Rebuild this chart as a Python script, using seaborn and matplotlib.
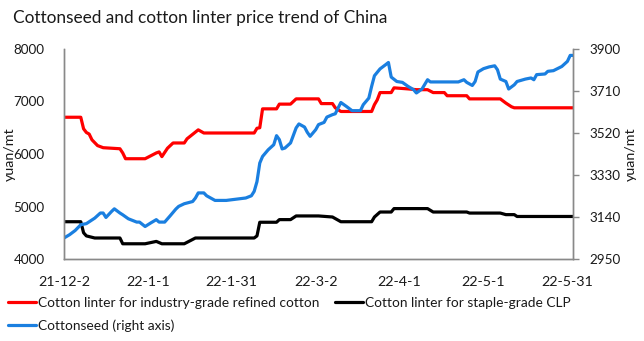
import matplotlib
matplotlib.use("Agg")
import matplotlib.pyplot as plt
import seaborn as sns
import pandas as pd
from matplotlib.lines import Line2D

# ---- data ----
refined_dates = [
    "2021-12-02", "2021-12-08", "2021-12-09", "2021-12-10", "2021-12-11", "2021-12-12",
    "2021-12-14", "2021-12-16", "2021-12-22", "2021-12-23", "2021-12-24", "2021-12-31",
    "2022-01-04", "2022-01-05", "2022-01-06", "2022-01-08", "2022-01-10", "2022-01-14",
    "2022-01-15", "2022-01-19", "2022-01-21", "2022-02-08", "2022-02-09", "2022-02-10",
    "2022-02-11", "2022-02-16", "2022-02-17", "2022-02-21", "2022-02-23", "2022-03-03",
    "2022-03-04", "2022-03-08", "2022-03-09", "2022-03-11", "2022-03-22", "2022-03-23",
    "2022-03-24", "2022-03-25", "2022-03-29", "2022-03-30", "2022-04-04", "2022-04-07",
    "2022-04-11", "2022-04-13", "2022-04-17", "2022-04-18", "2022-04-25", "2022-04-26",
    "2022-05-07", "2022-05-09", "2022-05-11", "2022-05-12", "2022-06-02",
]
refined_price = [
    6700, 6700, 6480, 6410, 6380, 6270,
    6160, 6120, 6100, 6020, 5910, 5910,
    6020, 6040, 5950, 6110, 6210, 6210,
    6290, 6460, 6400, 6400, 6490, 6500,
    6860, 6860, 6950, 6950, 7050, 7050,
    6960, 6960, 6880, 6810, 6810, 6940,
    7030, 7170, 7170, 7260, 7240, 7225,
    7225, 7170, 7170, 7110, 7110, 7050,
    7050, 6970, 6900, 6880, 6880,
]

staple_dates = [
    "2021-12-02", "2021-12-08", "2021-12-09", "2021-12-10", "2021-12-13", "2021-12-22",
    "2021-12-23", "2021-12-31", "2022-01-04", "2022-01-06", "2022-01-14", "2022-01-18",
    "2022-02-08", "2022-02-09", "2022-02-10", "2022-02-16", "2022-02-17", "2022-02-21",
    "2022-02-23", "2022-03-03", "2022-03-08", "2022-03-11", "2022-03-22", "2022-03-23",
    "2022-03-25", "2022-03-29", "2022-03-30", "2022-04-11", "2022-04-13", "2022-04-25",
    "2022-04-26", "2022-05-07", "2022-05-09", "2022-05-12", "2022-05-13", "2022-06-02",
]
staple_price = [
    4710, 4710, 4500, 4440, 4400, 4400,
    4290, 4290, 4335, 4290, 4290, 4400,
    4400, 4440, 4700, 4700, 4750, 4750,
    4820, 4820, 4800, 4710, 4710, 4800,
    4895, 4895, 4960, 4960, 4895, 4895,
    4875, 4875, 4845, 4845, 4810, 4810,
]

seed_dates = [
    "2021-12-02", "2021-12-04", "2021-12-06", "2021-12-08", "2021-12-10", "2021-12-13",
    "2021-12-15", "2021-12-16", "2021-12-17", "2021-12-19", "2021-12-20", "2021-12-22",
    "2021-12-23", "2021-12-25", "2021-12-28", "2021-12-29", "2021-12-31", "2022-01-02",
    "2022-01-04", "2022-01-05", "2022-01-07", "2022-01-09", "2022-01-11", "2022-01-12",
    "2022-01-14", "2022-01-17", "2022-01-18", "2022-01-19", "2022-01-21", "2022-01-22",
    "2022-01-25", "2022-01-29", "2022-02-05", "2022-02-07", "2022-02-08", "2022-02-09",
    "2022-02-10", "2022-02-11", "2022-02-13", "2022-02-15", "2022-02-16", "2022-02-17",
    "2022-02-18", "2022-02-19", "2022-02-21", "2022-02-23", "2022-02-24", "2022-02-26",
    "2022-02-27", "2022-02-28", "2022-03-02", "2022-03-03", "2022-03-05", "2022-03-06",
    "2022-03-08", "2022-03-09", "2022-03-10", "2022-03-11", "2022-03-13", "2022-03-15",
    "2022-03-18", "2022-03-19", "2022-03-21", "2022-03-22", "2022-03-23", "2022-03-25",
    "2022-03-27", "2022-03-28", "2022-03-29", "2022-03-31", "2022-04-02", "2022-04-04",
    "2022-04-06", "2022-04-07", "2022-04-09", "2022-04-11", "2022-04-12", "2022-04-22",
    "2022-04-24", "2022-04-25", "2022-04-27", "2022-04-28", "2022-04-29", "2022-05-01",
    "2022-05-03", "2022-05-05", "2022-05-06", "2022-05-07", "2022-05-09", "2022-05-10",
    "2022-05-12", "2022-05-13", "2022-05-16", "2022-05-18", "2022-05-19", "2022-05-20",
    "2022-05-23", "2022-05-24", "2022-05-26", "2022-05-29", "2022-05-31", "2022-06-01",
    "2022-06-02",
]
seed_price = [
    3045, 3060, 3079, 3105, 3110, 3135,
    3158, 3158, 3138, 3165, 3177, 3158,
    3150, 3132, 3117, 3117, 3097, 3113,
    3128, 3117, 3117, 3146, 3176, 3188,
    3200, 3210, 3226, 3249, 3249, 3236,
    3215, 3215, 3226, 3236, 3256, 3300,
    3384, 3414, 3444, 3467, 3508, 3490,
    3448, 3452, 3475, 3543, 3561, 3547,
    3523, 3505, 3535, 3558, 3568, 3592,
    3603, 3607, 3633, 3658, 3640, 3621,
    3621, 3648, 3678, 3731, 3779, 3810,
    3829, 3839, 3773, 3753, 3749, 3731,
    3716, 3701, 3719, 3761, 3751, 3751,
    3761, 3749, 3735, 3753, 3796, 3811,
    3819, 3824, 3806, 3764, 3753, 3719,
    3738, 3753, 3764, 3769, 3761, 3784,
    3787, 3799, 3802, 3821, 3844, 3871,
    3871,
]

tick_dates = ["2021-12-02", "2022-01-01", "2022-01-31", "2022-03-02",
              "2022-04-01", "2022-05-01", "2022-05-31"]
tick_labels = ["21-12-2", "22-1-1", "22-1-31", "22-3-2", "22-4-1", "22-5-1", "22-5-31"]

left_ticks = [4000, 5000, 6000, 7000, 8000]
right_ticks = [2950, 3140, 3330, 3520, 3710, 3900]

series_names = [
    "Cotton linter for industry-grade refined cotton",
    "Cotton linter for staple-grade CLP",
    "Cottonseed (right axis)",
]
colors = ["#FF0000", "#000000", "#1A7FE0"]

title = "Cottonseed and cotton linter price trend of China"
unit = "yuan/mt"

# ---- plotting ----
sns.set_style("white")
plt.rcParams["font.family"] = ["Lato", "DejaVu Sans"]
text_color = "#1a1a1a"

refined = pd.DataFrame({"date": pd.to_datetime(refined_dates), "price": refined_price})
staple = pd.DataFrame({"date": pd.to_datetime(staple_dates), "price": staple_price})
seed = pd.DataFrame({"date": pd.to_datetime(seed_dates), "price": seed_price})

fig = plt.figure(figsize=(6.44, 3.41), dpi=100)
ax = fig.add_axes([64 / 644, 1 - 259 / 341, 509 / 644, 210 / 341])

lw = 2.3
sns.lineplot(data=refined, x="date", y="price", ax=ax, color=colors[0], lw=lw)
sns.lineplot(data=staple, x="date", y="price", ax=ax, color=colors[1], lw=lw)
ax2 = ax.twinx()
sns.lineplot(data=seed, x="date", y="price", ax=ax2, color=colors[2], lw=lw)

ax.set_xlim(pd.Timestamp("2021-12-02"), pd.Timestamp("2022-06-02"))
ax.set_ylim(left_ticks[0], left_ticks[-1])
ax2.set_ylim(right_ticks[0], right_ticks[-1])
ax.set_yticks(left_ticks)
ax2.set_yticks(right_ticks)
ax.set_xticks(pd.to_datetime(tick_dates))
ax.set_xticklabels(tick_labels)

fs = 10.3
yfs = 9.7
ax.tick_params(axis="y", length=0, pad=14, labelsize=yfs, labelcolor=text_color)
ax.tick_params(axis="x", length=0, pad=12, labelsize=fs, labelcolor=text_color)
ax2.tick_params(axis="y", length=4, width=1, color="#898989", direction="out",
                pad=8, labelsize=yfs, labelcolor=text_color)

ax.set_xlabel("")
ax.set_ylabel(unit, fontsize=fs, color=text_color)
ax2.set_ylabel(unit, fontsize=fs, color=text_color)
ax.yaxis.set_label_coords((16 - 64) / 509, 0.5)
ax2.yaxis.set_label_coords((625 - 64) / 509, 0.5)

for a in (ax, ax2):
    a.spines["top"].set_visible(False)
    for s in ("left", "right", "bottom"):
        a.spines[s].set_color("#898989")
        a.spines[s].set_linewidth(1)
    a.grid(False)

fig.text(13 / 644, 1 - 18 / 341, title, fontsize=12.4, color=text_color,
         ha="left", va="center")

handles = [Line2D([], [], color=c, lw=lw) for c in colors]
order = [0, 2, 1]
fig.legend([handles[i] for i in order], [series_names[i] for i in order],
           ncol=2, loc="upper left", bbox_to_anchor=(5 / 644, 1 - 294 / 341),
           frameon=False, fontsize=9.9, handlelength=2.05, handletextpad=0.15,
           columnspacing=1.15, labelspacing=0.8, borderaxespad=0, borderpad=0.2,
           labelcolor=text_color)

fig.savefig("out.png", dpi=100)
